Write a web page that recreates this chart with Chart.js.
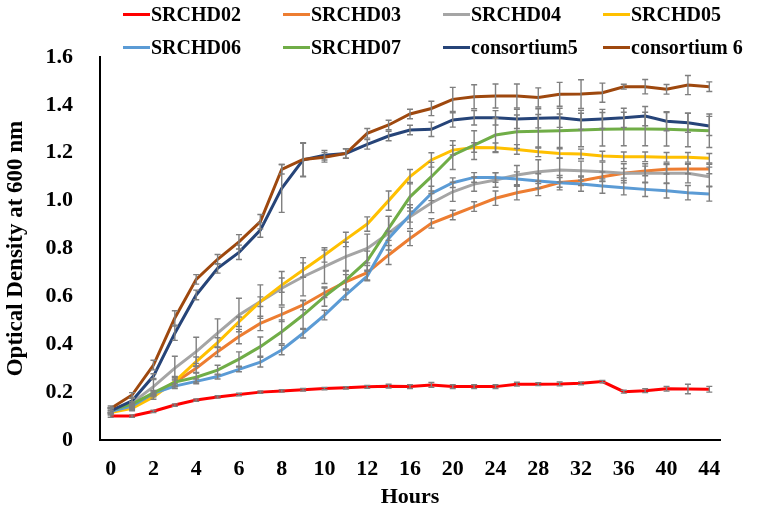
<!DOCTYPE html>
<html>
<head>
<meta charset="utf-8">
<script src="https://cdn.jsdelivr.net/npm/chart.js@4.4.1/dist/chart.umd.min.js"></script>
<style>
  body { margin: 0; background: #fff; }
  #wrap { position: relative; width: 767px; height: 512px; }
  #chart { position: absolute; left: 0; top: 0; }
  #legend { position: absolute; left: 123px; top: -2px; width: 644px; display: grid;
            grid-template-columns: repeat(4, 160px);
            font: bold 20px 'Liberation Serif', 'Times New Roman', serif; color: #000; }
  #legend .item { height: 33px; display: flex; align-items: center; white-space: nowrap; }
  #legend .item i { display: inline-block; width: 27px; height: 3px; margin-right: 1px; }
</style>
</head>
<body>
<div id="wrap">
  <canvas id="chart" width="767" height="512"></canvas>
  <div id="legend"></div>
</div>
<script>
/***** data *****/
var hours = ['0','1','2','3','4','5','6','7','8','9','10','11','12','14','16','18','20','22','24','26','28','30','32','34','36','38','40','42','44'];

var names = ['SRCHD02', 'SRCHD03', 'SRCHD04', 'SRCHD05', 'SRCHD06', 'SRCHD07', 'consortium5', 'consortium 6'];
var colors = ['#ff0000', '#ed7d31', '#a5a5a5', '#ffc000', '#5b9bd5', '#70ad47', '#264478', '#9e480e'];

var srchd02 = [0.10, 0.10, 0.12, 0.146, 0.167, 0.18, 0.19, 0.20, 0.205, 0.21, 0.215, 0.218, 0.222, 0.225, 0.223, 0.23, 0.223, 0.223, 0.223, 0.233, 0.233, 0.234, 0.237, 0.244, 0.202, 0.206, 0.214, 0.213, 0.212];
var srchd03 = [0.125, 0.137, 0.19, 0.24, 0.30, 0.369, 0.432, 0.487, 0.525, 0.564, 0.615, 0.661, 0.699, 0.773, 0.842, 0.905, 0.94, 0.975, 1.01, 1.033, 1.051, 1.076, 1.083, 1.10, 1.114, 1.124, 1.131, 1.132, 1.132];
var srchd04 = [0.125, 0.155, 0.223, 0.30, 0.369, 0.446, 0.522, 0.578, 0.634, 0.682, 0.724, 0.766, 0.80, 0.864, 0.933, 0.99, 1.037, 1.069, 1.086, 1.107, 1.121, 1.128, 1.125, 1.121, 1.114, 1.114, 1.114, 1.114, 1.10];
var srchd05 = [0.115, 0.132, 0.18, 0.245, 0.327, 0.407, 0.494, 0.578, 0.647, 0.71, 0.773, 0.838, 0.902, 1.0, 1.1, 1.17, 1.211, 1.222, 1.221, 1.214, 1.204, 1.197, 1.195, 1.186, 1.183, 1.183, 1.181, 1.181, 1.177];
var srchd06 = [0.12, 0.142, 0.195, 0.225, 0.245, 0.265, 0.295, 0.325, 0.376, 0.446, 0.522, 0.606, 0.685, 0.842, 0.94, 1.03, 1.075, 1.097, 1.097, 1.09, 1.082, 1.075, 1.069, 1.061, 1.054, 1.047, 1.041, 1.033, 1.028];
var srchd07 = [0.125, 0.15, 0.197, 0.242, 0.262, 0.292, 0.338, 0.39, 0.452, 0.522, 0.599, 0.668, 0.749, 0.884, 1.016, 1.10, 1.19, 1.232, 1.274, 1.288, 1.29, 1.292, 1.295, 1.298, 1.299, 1.299, 1.298, 1.295, 1.292];
var consortium5 = [0.122, 0.164, 0.267, 0.446, 0.606, 0.717, 0.784, 0.877, 1.051, 1.17, 1.19, 1.197, 1.235, 1.27, 1.295, 1.298, 1.337, 1.346, 1.346, 1.341, 1.344, 1.346, 1.337, 1.341, 1.346, 1.353, 1.332, 1.325, 1.312];
var consortium6 = [0.132, 0.188, 0.313, 0.51, 0.671, 0.755, 0.828, 0.912, 1.131, 1.172, 1.181, 1.197, 1.281, 1.316, 1.362, 1.385, 1.423, 1.434, 1.437, 1.437, 1.431, 1.444, 1.445, 1.451, 1.476, 1.476, 1.465, 1.483, 1.476];

// error bar half lengths
var err02 = [0.005, 0.005, 0.005, 0.005, 0.005, 0.005, 0.005, 0.005, 0.005, 0.005, 0.005, 0.005, 0.006, 0.008, 0.008, 0.01, 0.008, 0.008, 0.008, 0.008, 0.006, 0.008, 0.006, 0.005, 0.006, 0.008, 0.01, 0.02, 0.012];
var err03 = [0.01, 0.01, 0.01, 0.015, 0.02, 0.02, 0.03, 0.03, 0.03, 0.02, 0.02, 0.03, 0.03, 0.04, 0.03, 0.02, 0.02, 0.02, 0.03, 0.03, 0.03, 0.02, 0.02, 0.02, 0.02, 0.02, 0.02, 0.02, 0.02];
var err04 = [0.01, 0.02, 0.03, 0.05, 0.06, 0.06, 0.07, 0.07, 0.07, 0.08, 0.07, 0.06, 0.06, 0.07, 0.05, 0.04, 0.04, 0.03, 0.03, 0.04, 0.05, 0.05, 0.04, 0.04, 0.04, 0.04, 0.04, 0.04, 0.04];
var err05 = [0.01, 0.01, 0.01, 0.02, 0.02, 0.02, 0.02, 0.02, 0.03, 0.03, 0.03, 0.03, 0.03, 0.04, 0.03, 0.03, 0.02, 0.02, 0.02, 0.02, 0.02, 0.02, 0.02, 0.02, 0.02, 0.02, 0.02, 0.02, 0.02];
var err06 = [0.01, 0.01, 0.01, 0.01, 0.01, 0.01, 0.01, 0.02, 0.02, 0.02, 0.02, 0.02, 0.02, 0.03, 0.03, 0.03, 0.02, 0.02, 0.02, 0.03, 0.03, 0.03, 0.03, 0.03, 0.03, 0.03, 0.03, 0.03, 0.03];
var err07 = [0.01, 0.01, 0.01, 0.02, 0.02, 0.02, 0.03, 0.04, 0.05, 0.06, 0.04, 0.04, 0.04, 0.05, 0.06, 0.06, 0.06, 0.06, 0.07, 0.07, 0.07, 0.07, 0.07, 0.07, 0.07, 0.07, 0.07, 0.07, 0.07];
var errC5 = [0.01, 0.01, 0.01, 0.03, 0.02, 0.02, 0.03, 0.03, 0.1, 0.07, 0.02, 0.02, 0.02, 0.02, 0.02, 0.03, 0.03, 0.03, 0.03, 0.04, 0.04, 0.04, 0.04, 0.04, 0.04, 0.04, 0.04, 0.04, 0.04];
var errC6 = [0.01, 0.01, 0.02, 0.03, 0.02, 0.02, 0.03, 0.03, 0.02, 0.07, 0.02, 0.02, 0.02, 0.02, 0.02, 0.03, 0.05, 0.05, 0.05, 0.05, 0.04, 0.05, 0.06, 0.04, 0.01, 0.03, 0.02, 0.04, 0.02];

var series = [srchd02, srchd03, srchd04, srchd05, srchd06, srchd07, consortium5, consortium6];
var errors = [err02, err03, err04, err05, err06, err07, errC5, errC6];
/***** !data *****/

var serif = "'Liberation Serif', 'Times New Roman', serif";

var datasets = [];
for (var i = 0; i < series.length; i++) {
    datasets.push({
        label: names[i],
        data: series[i],
        errors: errors[i],
        borderColor: colors[i],
        backgroundColor: colors[i],
        borderWidth: 3,
        pointRadius: 0,
        tension: 0,
        fill: false,
        order: series.length - i
    });
}

// legend in html, four columns
var legend = document.getElementById('legend');
names.forEach(function(name, i) {
    legend.innerHTML += '<div class="item"><i style="background:' + colors[i] + '"></i>' + name + '</div>';
});

var errorBars = {
    id: 'errorBars',
    afterDatasetsDraw: function(chart) {
        var ctx = chart.ctx;
        var y = chart.scales.y;
        ctx.save();
        ctx.strokeStyle = '#7f7f7f';
        ctx.lineWidth = 1.4;
        chart.data.datasets.forEach(function(ds, d) {
            var meta = chart.getDatasetMeta(d);
            meta.data.forEach(function(pt, i) {
                var v = ds.data[i], e = ds.errors[i];
                var y1 = y.getPixelForValue(v + e);
                var y2 = y.getPixelForValue(v - e);
                ctx.beginPath();
                ctx.moveTo(pt.x, y1); ctx.lineTo(pt.x, y2);
                ctx.moveTo(pt.x - 3, y1); ctx.lineTo(pt.x + 3, y1);
                ctx.moveTo(pt.x - 3, y2); ctx.lineTo(pt.x + 3, y2);
                ctx.stroke();
            });
        });
        ctx.restore();
    }
};

new Chart(document.getElementById('chart'), {
    type: 'line',
    data: { labels: hours, datasets: datasets },
    plugins: [errorBars],
    options: {
        responsive: false,
        animation: false,
        layout: { padding: { top: 57, right: 47, left: 0, bottom: 0 } },
        plugins: { legend: { display: false }, tooltip: { enabled: false } },
        scales: {
            x: {
                type: 'category',
                offset: true,
                grid: { display: false, drawTicks: false },
                border: { display: true, color: '#000', width: 2 },
                ticks: {
                    autoSkip: false, maxRotation: 0, padding: 16, color: '#000',
                    font: { family: serif, size: 22, weight: 'bold' },
                    callback: function(v, i) { return i % 2 === 0 ? hours[i] : ''; }
                },
                title: { display: true, text: 'Hours', color: '#000', padding: { top: 0, bottom: 1 },
                         font: { family: serif, size: 22, weight: 'bold' } },
                afterFit: function(scale) { scale.height = 72; }
            },
            y: {
                min: 0, max: 1.6,
                grid: { display: false, drawTicks: false },
                border: { display: true, color: '#000', width: 2 },
                ticks: {
                    stepSize: 0.2, padding: 27, color: '#000',
                    font: { family: serif, size: 22, weight: 'bold' }
                },
                title: { display: true, text: 'Optical Density at 600 nm', color: '#000', padding: { top: 2, bottom: 0 },
                         font: { family: serif, size: 23, weight: 'bold' } },
                afterFit: function(scale) { scale.width = 100; }
            }
        }
    }
});
</script>
</body>
</html>
